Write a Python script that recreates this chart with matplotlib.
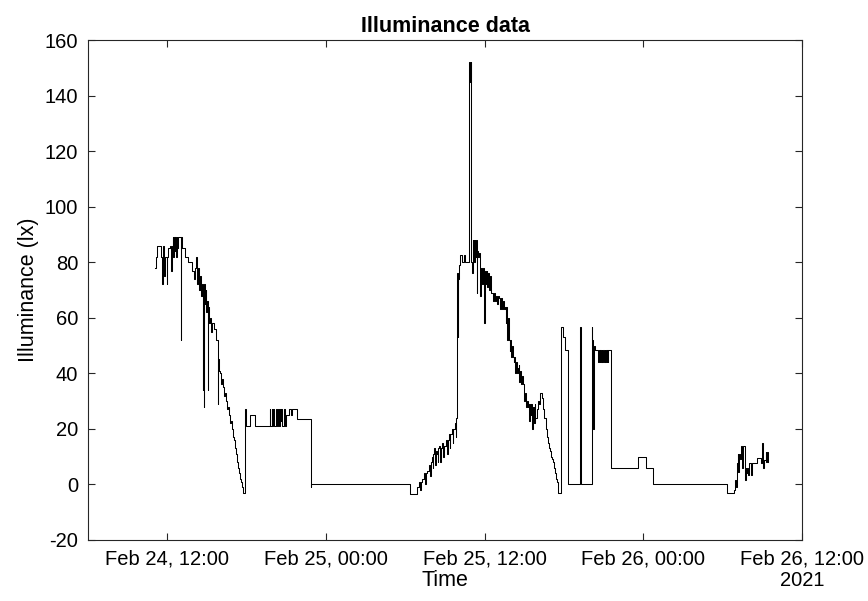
import matplotlib
matplotlib.use("Agg")
import matplotlib.pyplot as plt
import matplotlib.dates as mdates
import pandas as pd

plt.rcParams['font.family'] = ['Liberation Sans', 'DejaVu Sans']
plt.rcParams['axes.unicode_minus'] = False

# readings as (hours since 2021-02-24 00:00, lux), held until the next reading
day1 = [
    (11.10, 78), (11.15, 82), (11.20, 86), (11.55, 82), (11.60, 72), (11.65, 86),
    (11.72, 82), (11.78, 75), (11.84, 82), (11.95, 72), (12.00, 82), (12.06, 85),
    (12.20, 86), (12.28, 77), (12.34, 86), (12.40, 89), (12.45, 82), (12.50, 89),
    (12.55, 84), (12.60, 89), (12.65, 82), (12.70, 89), (12.76, 85), (12.82, 89),
    (13.02, 52), (13.06, 89), (13.12, 85), (13.30, 82), (13.55, 80), (13.85, 77),
    (14.03, 74), (14.12, 78), (14.20, 82), (14.28, 72), (14.34, 78), (14.40, 70),
    (14.48, 75), (14.55, 68), (14.62, 72), (14.68, 34), (14.71, 70), (14.75, 28),
    (14.78, 72), (14.84, 65), (14.90, 70), (14.96, 62), (15.02, 66), (15.08, 34),
    (15.11, 64), (15.18, 58), (15.24, 60), (15.32, 55), (15.40, 58), (15.55, 56),
    (15.70, 52), (15.80, 29), (15.84, 45), (15.92, 41), (15.99, 40), (16.06, 36),
    (16.12, 38), (16.21, 35), (16.28, 32), (16.34, 33), (16.44, 30), (16.52, 27),
    (16.58, 28), (16.67, 25), (16.74, 22), (16.80, 23), (16.89, 20), (16.96, 17),
    (17.03, 16), (17.12, 13), (17.20, 11), (17.27, 8), (17.35, 6), (17.42, 4),
    (17.50, 2), (17.57, 1), (17.65, -1), (17.72, -3),
]

evening1 = [
    (17.87, 27), (17.93, 21), (18.25, 25), (18.62, 21), (19.75, 27), (19.80, 21),
    (19.88, 27), (19.93, 21), (20.02, 27), (20.08, 21), (20.20, 27), (20.26, 21),
    (20.36, 27), (20.42, 21), (20.50, 27), (20.56, 23), (20.62, 27), (20.70, 21),
    (20.80, 27), (20.86, 21), (20.95, 25), (21.18, 27), (21.35, 25), (21.45, 27),
    (21.78, 23.5),
]

night1 = [(22.83, -1), (22.90, 0), (30.36, -3.3)]

morning2 = [
    (30.89, -1), (31.04, 1), (31.10, -2), (31.16, 1), (31.26, 2), (31.41, 4),
    (31.47, 0), (31.53, 4), (31.64, 5), (31.79, 7), (31.85, 3), (31.91, 8),
    (32.01, 10), (32.07, 6), (32.12, 11), (32.17, 13), (32.23, 7), (32.29, 12),
    (32.39, 11), (32.45, 8), (32.50, 13), (32.54, 14), (32.60, 8), (32.66, 13),
    (32.77, 15), (32.83, 10), (32.90, 14), (33.07, 16), (33.13, 11), (33.19, 16),
    (33.29, 18), (33.35, 13), (33.41, 18), (33.52, 20), (33.58, 15), (33.64, 20),
    (33.75, 22), (33.80, 17), (33.85, 24),
]

peak2 = [
    (33.90, 76), (33.95, 53), (34.00, 74), (34.05, 79), (34.15, 82.5), (34.25, 80),
    (34.42, 82.5), (34.50, 80), (34.85, 152), (34.90, 145), (34.94, 152), (34.97, 80),
    (35.02, 76), (35.08, 88), (35.12, 82), (35.16, 88), (35.20, 80), (35.24, 88),
    (35.30, 82), (35.36, 88), (35.40, 69), (35.44, 84), (35.50, 82), (35.56, 83.5),
    (35.62, 78), (35.68, 68), (35.72, 78), (35.78, 72), (35.84, 78), (35.92, 74),
    (35.98, 58), (36.02, 77), (36.08, 72), (36.14, 77), (36.20, 71), (36.26, 76),
    (36.32, 70), (36.38, 75), (36.45, 69), (36.60, 66), (36.68, 69), (36.76, 66),
    (36.83, 68), (36.90, 65), (36.98, 68), (37.06, 67), (37.14, 63), (37.22, 67),
    (37.28, 63), (37.36, 66), (37.43, 63), (37.50, 64), (37.58, 58), (37.64, 64),
    (37.70, 52), (37.76, 60), (37.81, 52), (37.88, 48), (37.94, 52), (38.00, 46),
    (38.06, 50), (38.12, 46), (38.18, 44), (38.24, 46), (38.30, 40), (38.36, 44),
    (38.42, 40), (38.50, 42), (38.56, 43), (38.62, 37), (38.68, 41), (38.74, 36),
    (38.80, 39), (38.87, 36), (38.94, 34), (39.00, 30), (39.06, 33), (39.12, 28),
    (39.18, 30), (39.24, 28), (39.31, 29), (39.36, 23), (39.42, 29), (39.48, 25),
    (39.54, 29), (39.60, 20), (39.66, 28), (39.72, 22), (39.78, 29), (39.84, 24),
    (39.92, 27), (40.06, 30), (40.14, 29), (40.22, 33), (40.30, 31), (40.44, 27),
    (40.52, 24), (40.60, 22), (40.67, 20), (40.74, 17), (40.82, 15), (40.90, 13),
    (40.97, 12), (41.05, 10), (41.12, 9), (41.19, 8), (41.27, 6), (41.35, 4),
    (41.42, 2), (41.50, 1), (41.57, -3),
]

afternoon2 = [
    (41.78, 56.7), (41.92, 53), (42.05, 48.4), (42.32, 0), (43.20, 56.7), (43.30, 0),
    (44.08, 56.7), (44.13, 52), (44.16, 30), (44.19, 52), (44.22, 20), (44.25, 50),
    (44.33, 48.5), (44.58, 44), (44.61, 48.5), (44.64, 44), (44.67, 48.5), (44.70, 44),
    (44.73, 48.5), (44.76, 44), (44.79, 48.5), (44.82, 44), (44.85, 48.5), (44.88, 44),
    (44.91, 48.5), (44.94, 44), (44.97, 48.5), (45.00, 44), (45.03, 48.5), (45.06, 44),
    (45.09, 48.5), (45.12, 44), (45.15, 48.5), (45.18, 44), (45.21, 48.5), (45.24, 44),
    (45.27, 48.5), (45.30, 44), (45.33, 48.5), (45.58, 6), (47.59, 9.8), (48.19, 6),
    (48.72, 0), (54.29, -3.2),
]

morning3 = [
    (54.82, -2), (54.94, 1.5), (55.00, -1), (55.06, 7.6), (55.12, 11), (55.16, 4.5),
    (55.22, 11), (55.30, 9), (55.36, 13), (55.42, 14), (55.46, 6), (55.52, 14),
    (55.62, 14), (55.66, 1.5), (55.74, 6), (55.80, 4), (55.87, 6), (55.95, 3.4),
    (56.02, 7.6), (56.12, 3.4), (56.20, 7.6), (56.62, 9.5), (56.87, 7.6), (57.00, 15),
    (57.06, 5.8), (57.12, 8.8), (57.24, 11.6), (57.30, 8), (57.37, 11.6), (57.42, 8),
    (57.45, 8),
]

readings = day1 + evening1 + night1 + morning2 + peak2 + afternoon2 + morning3
hours = [h for h, v in readings]
lux = [v for h, v in readings]

start = pd.Timestamp('2021-02-24')
times = start + pd.to_timedelta(hours, unit='h')

fig = plt.figure(figsize=(8.68, 6.01), dpi=100)
ax = fig.add_axes([0.1014, 0.1015, 0.8226, 0.8319])

ax.plot(times, lux, color='black', linewidth=0.75, drawstyle='steps-post')

ax.set_xlim(pd.Timestamp('2021-02-24 06:00'), pd.Timestamp('2021-02-26 12:00'))
ax.set_ylim(-20, 160)
ax.set_yticks(range(-20, 161, 20))
ax.xaxis.set_major_locator(mdates.HourLocator(byhour=[0, 12]))
ax.xaxis.set_major_formatter(mdates.DateFormatter('%b %d, %H:%M'))

ax.tick_params(direction='in', top=True, right=True, length=5, width=0.8,
               labelsize=14.5, colors='#262626', labelcolor='black', pad=7)
for s in ax.spines.values():
    s.set_color('#262626')
    s.set_linewidth(0.8)

ax.set_title('Illuminance data', fontsize=15.5, fontweight='bold', pad=6)
ax.set_xlabel('Time', fontsize=15.5, labelpad=1)
ax.set_ylabel('Illuminance (lx)', fontsize=15.5, labelpad=4)
ax.text(pd.Timestamp('2021-02-26 12:00'), -0.062, '2021', transform=ax.get_xaxis_transform(),
        ha='center', va='top', fontsize=14.5)

fig.savefig('out.png', dpi=100)
